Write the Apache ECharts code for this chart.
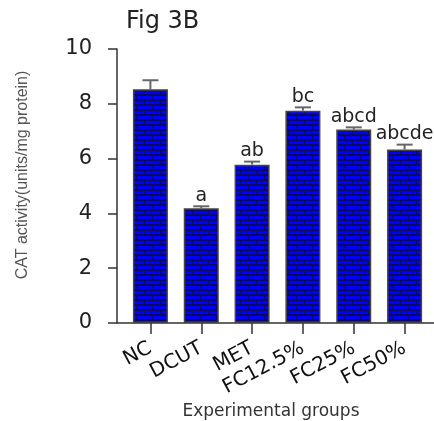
<!DOCTYPE html>
<html>
<head>
<meta charset="utf-8">
<script src="https://cdn.jsdelivr.net/npm/echarts@6/dist/echarts.min.js"></script>
<style>html,body{margin:0;padding:0;background:#fff}#c{width:434px;height:421px}</style>
</head>
<body>
<div id="c"></div>
<script>
var categories = ['NC', 'DCUT', 'MET', 'FC12.5%', 'FC25%', 'FC50%'];
var means = [8.53, 4.19, 5.78, 7.75, 7.06, 6.33];
var errors = [0.33, 0.07, 0.11, 0.12, 0.08, 0.18];
var letters = ['', 'a', 'ab', 'bc', 'abcd', 'abcde'];
var yTicks = [0, 2, 4, 6, 8, 10];

function brickPattern() {
  var c = document.createElement('canvas');
  c.width = 16; c.height = 10;
  var g = c.getContext('2d');
  g.fillStyle = '#0a0a66';
  g.fillRect(0, 0, 16, 10);
  g.fillStyle = '#0000ff';
  g.fillRect(1, 1, 15, 3);
  g.fillRect(0, 6, 8, 3);
  g.fillRect(9, 6, 7, 3);
  return c;
}

var chart = echarts.init(document.getElementById('c'), null, {renderer: 'canvas'});
var axisColor = '#333';
var option = {
  animation: false,
  backgroundColor: '#ffffff',
  title: [
    {text: 'Fig 3B', left: 121, top: 5,
     textStyle: {fontFamily: 'DejaVu Sans', fontSize: 24, fontWeight: 'normal', color: '#222'}},
    {text: 'Experimental groups', left: 266, top: 398, textAlign: 'center',
     textStyle: {fontFamily: 'DejaVu Sans', fontSize: 17, fontWeight: 'normal', color: '#333'}}
  ],
  grid: [
    {left: 117, right: 0, top: 49, bottom: 98},
    {left: 125, width: 305, top: 49, bottom: 98}
  ],
  xAxis: [
    {gridIndex: 0, type: 'value', min: 0, max: 1,
     axisLine: {show: true, lineStyle: {color: axisColor, width: 1.5}},
     axisTick: {show: false}, axisLabel: {show: false}, splitLine: {show: false}},
    {gridIndex: 1, type: 'category', data: categories,
     axisLine: {show: false},
     axisTick: {show: true, alignWithLabel: true, length: 11, lineStyle: {color: axisColor, width: 1.5}},
     axisLabel: {rotate: 28, margin: 24, fontFamily: 'DejaVu Sans', fontSize: 20, color: '#111', interval: 0},
     splitLine: {show: false}}
  ],
  yAxis: [
    {gridIndex: 0, type: 'value', min: 0, max: 10, interval: 2,
     axisLine: {show: true, lineStyle: {color: axisColor, width: 1.5}},
     axisTick: {show: true, length: 9, lineStyle: {color: axisColor, width: 1.5}},
     axisLabel: {margin: 25, fontFamily: 'DejaVu Sans', fontSize: 21, color: '#222',
       formatter: function (v) { return yTicks.indexOf(v) >= 0 ? String(v) : ''; }},
     splitLine: {show: false},
     name: 'CAT activity(units/mg protein)', nameLocation: 'middle', nameGap: 86,
     nameTextStyle: {fontFamily: 'Liberation Sans', fontSize: 16, color: '#555', padding: [0, 0, 0, 22]}},
    {gridIndex: 1, type: 'value', min: 0, max: 10, interval: 2, show: false}
  ],
  series: [
    {type: 'bar', xAxisIndex: 1, yAxisIndex: 1, data: means, barWidth: 35,
     itemStyle: {color: {image: brickPattern(), repeat: 'repeat'}, borderColor: '#444', borderWidth: 1.5},
     z: 2},
    {type: 'custom', xAxisIndex: 1, yAxisIndex: 1, z: 3,
     data: means.map(function (m, i) { return [i, m, m + errors[i]]; }),
     renderItem: function (params, api) {
       var i = api.value(0);
       var base = api.coord([i, api.value(1)]);
       var top = api.coord([i, api.value(2)]);
       var hw = 8;
       var children = [
         {type: 'line', shape: {x1: base[0], y1: base[1], x2: top[0], y2: top[1]},
          style: {stroke: '#666', lineWidth: 2}},
         {type: 'line', shape: {x1: top[0] - hw, y1: top[1], x2: top[0] + hw, y2: top[1]},
          style: {stroke: '#666', lineWidth: 2}}
       ];
       var t = letters[params.dataIndex];
       if (t) {
         children.push({type: 'text', x: top[0], y: top[1] - 1,
           style: {text: t, textAlign: 'center', textVerticalAlign: 'bottom',
             font: '19px "DejaVu Sans"', fill: '#222'}});
       }
       return {type: 'group', children: children};
     }}
  ]
};
chart.setOption(option);
</script>
</body>
</html>
